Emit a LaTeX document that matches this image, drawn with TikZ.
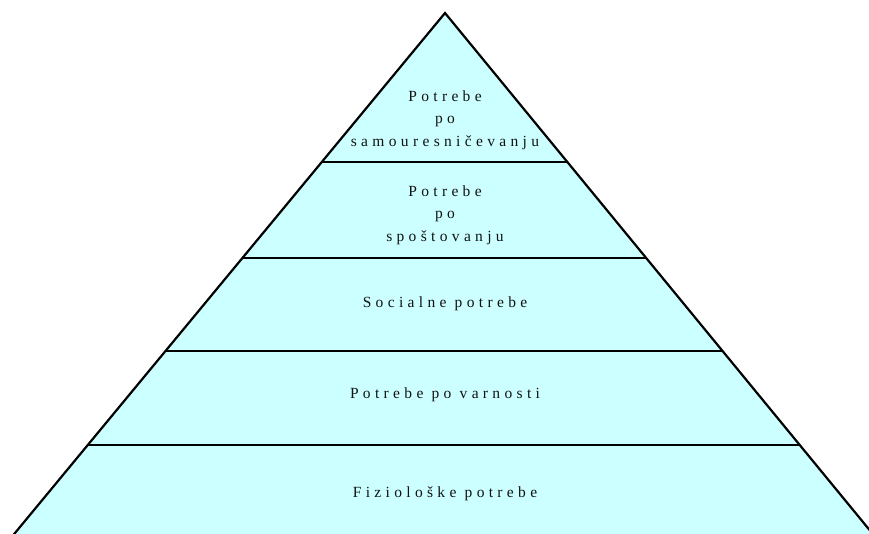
\documentclass[tikz,border=0pt]{standalone}
\usepackage{fontspec}
\setmainfont{Liberation Serif}[LetterSpace=28]
\usetikzlibrary{calc}
\definecolor{pyrfill}{HTML}{CCFFFF}
\definecolor{pyrtext}{HTML}{111111}
\begin{document}
\begin{tikzpicture}[x=1pt,y=-1pt,
  edge/.style={line width=2.2pt,black},
  level/.style={line width=2.2pt,black},
  lbl/.style={font=\fontsize{15.5}{22.5}\selectfont,text=pyrtext,align=center,inner sep=0pt}]
\useasboundingbox (0,0) rectangle (869,533);
\coordinate (apex) at (445,13);
\coordinate (bl) at (15,533);
\coordinate (br) at (872,533);
\begin{scope}
\clip (0,0) rectangle (869,533);
\fill[pyrfill] (apex) -- ($(apex)!1.004!(bl)$) -- ($(apex)!1.004!(br)$) -- cycle;
\foreach \t/\n in {0.2865/a,0.4712/b,0.65/c,0.8308/d}{
  \coordinate (l\n) at ($(apex)!\t!(bl)$);
  \coordinate (r\n) at ($(apex)!\t!(br)$);
  \draw[level] (l\n) -- (r\n);
}
\draw[edge,line join=miter] ($(apex)!1.01!(bl)$) -- (apex) -- ($(apex)!1.01!(br)$);
\end{scope}
\node[lbl] (t1) at (445,120) {Potrebe\\po\\samouresničevanju};
\node[lbl] (t2) at (445,215) {Potrebe\\po\\spoštovanju};
\node[lbl] (t3) at (445,304) {Socialne potrebe};
\node[lbl] (t4) at (445,395) {Potrebe po varnosti};
\node[lbl] (t5) at (445,494) {Fiziološke potrebe};
\end{tikzpicture}
\end{document}
